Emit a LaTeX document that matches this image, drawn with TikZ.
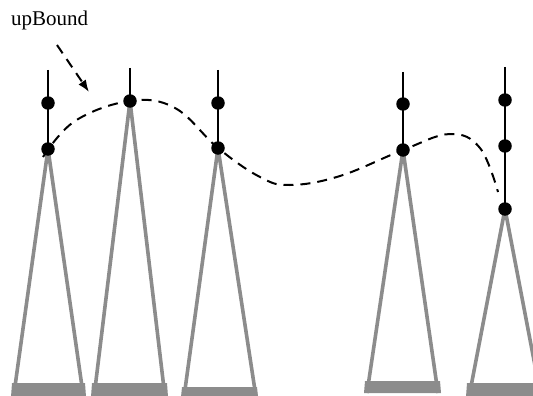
\documentclass[tikz,border=0pt]{standalone}
\usepackage{fontspec}
\setmainfont{Liberation Serif}
\usetikzlibrary{arrows.meta}
\definecolor{treegray}{HTML}{8C8C8C}
\begin{document}
\begin{tikzpicture}[x=1pt,y=-1pt,
  dot/.style={circle,fill=black,inner sep=0pt,minimum size=13.5pt},
  stalk/.style={line width=2pt,black},
  edge/.style={line width=3.6pt,treegray},
  bar/.style={fill=treegray},
  bound/.style={line width=2pt,dash pattern=on 10pt off 7pt,black},
  lbl/.style={font=\fontsize{21}{24}\selectfont,inner sep=0pt,anchor=base west}]
\useasboundingbox (0,0) rectangle (533,396);
% stalk tops
\coordinate (t1) at (48,70);
\coordinate (t2) at (130,68);
\coordinate (t3) at (218,70);
\coordinate (t4) at (403,72);
\coordinate (t5) at (505,67);
% base corners
\coordinate (l1) at (13.5,397); \coordinate (r1) at (83.5,397);
\coordinate (l2) at (94,397); \coordinate (r2) at (165,397);
\coordinate (l3) at (184,397); \coordinate (r3) at (256,397);
\coordinate (l4) at (367,393); \coordinate (r4) at (438,393);
\coordinate (l5) at (469,397); \coordinate (r5) at (541,397);
% triangles
\draw[edge] (l1) -- (48,149) -- (r1);
\draw[edge] (l2) -- (130,101) -- (r2);
\draw[edge] (l3) -- (218,148) -- (r3);
\draw[edge] (l4) -- (403,150) -- (r4);
\draw[edge] (l5) -- (505,209) -- (r5);
% bottom bars
\fill[bar] (12,383) -- (85,383) -- (86,397) -- (11,397) -- cycle;
\fill[bar] (92,383) -- (167,383) -- (168,397) -- (91,397) -- cycle;
\fill[bar] (182,387) -- (257,387) -- (258,397) -- (181,397) -- cycle;
\fill[bar] (365,381) -- (440,381) -- (441,393) -- (364,393) -- cycle;
\fill[bar] (467,383) -- (545,383) -- (545,397) -- (466,397) -- cycle;
% stalks and dots
\node[dot] (a1) at (48,103) {};
\node[dot] (b1) at (48,149) {};
\node[dot] (a2) at (130,101) {};
\node[dot] (a3) at (218,103) {};
\node[dot] (b3) at (218,148) {};
\node[dot] (a4) at (403,104) {};
\node[dot] (b4) at (403,150) {};
\node[dot] (a5) at (505,100) {};
\node[dot] (b5) at (505,146) {};
\node[dot] (c5) at (505,209) {};
\draw[stalk] (t1) -- (b1.center);
\draw[stalk] (t2) -- (a2.center);
\draw[stalk] (t3) -- (b3.center);
\draw[stalk] (t4) -- (b4.center);
\draw[stalk] (t5) -- (c5.center);
% upper bound curve
\draw[bound] plot[smooth,tension=0.65] coordinates {(43,157) (75,121) (130,101) (175,108) (218,148) (260,177) (290,185) (340,176) (403,150) (450,134) (480,148) (498,192)};
% label and arrow
\node[lbl] (ub) at (11,26) {upBound};
\coordinate (as) at (57,45);
\coordinate (ae) at (89,92);
\draw[bound,-{Latex[length=12pt,width=9pt]}] (as) -- (ae);
\end{tikzpicture}
\end{document}
